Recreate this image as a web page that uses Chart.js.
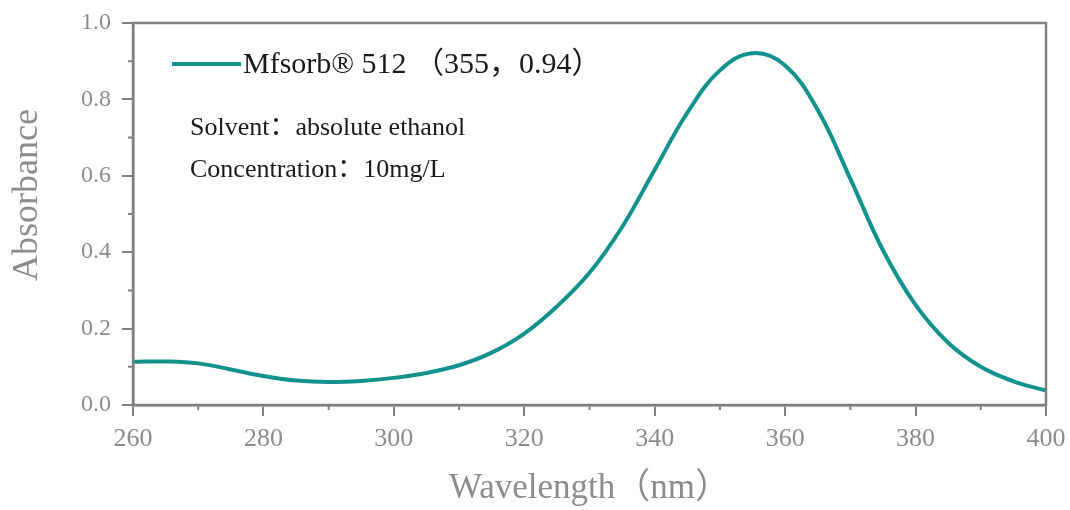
<!DOCTYPE html>
<html>
<head>
<meta charset="utf-8">
<script src="https://cdn.jsdelivr.net/npm/chart.js@4.4.1/dist/chart.umd.min.js"></script>
<style>
html,body{margin:0;padding:0;background:#fff;}
#wrap{position:relative;width:1070px;height:510px;}
</style>
</head>
<body>
<div id="wrap"><canvas id="c" width="1070" height="510"></canvas></div>
<script>
// ---- data ----
const wavelengths = [260,265,270,275,280,285,290,295,300,305,310,315,320,325,330,335,340,345,350,355,360,365,370,375,380,385,390,395,400];
const absorbance  = [0.113,0.114,0.109,0.093,0.076,0.064,0.060,0.063,0.071,0.084,0.104,0.137,0.187,0.258,0.346,0.466,0.616,0.765,0.876,0.921,0.889,0.772,0.592,0.405,0.262,0.163,0.100,0.062,0.038];
const xTicks = [260,280,300,320,340,360,380,400];
const xMinorTicks = [270,290,310,330,350,370,390];
const yTicks = [0,0.2,0.4,0.6,0.8,1.0];
const yMinorTicks = [0.1,0.3,0.5,0.7,0.9];
const seriesLabel = 'Mfsorb® 512 （355，0.94）';
const notes = ['Solvent：absolute ethanol', 'Concentration：10mg/L'];
const xTitle = 'Wavelength（nm）';
const yTitle = 'Absorbance';

const SERIF = '"Liberation Serif", "DejaVu Serif", "Noto Sans CJK SC", serif';
const GRAY = '#808080';
const LABEL_GRAY = '#8c8c8c';
const TEAL = '#12918d';

const framePlugin = {
  id: 'frame',
  afterDatasetsDraw(chart) {
    const {ctx, chartArea: a, scales} = chart;
    ctx.save();
    ctx.strokeStyle = GRAY;
    ctx.lineWidth = 2.5;
    ctx.strokeRect(a.left, a.top, a.right - a.left, a.bottom - a.top);
    // minor ticks
    ctx.lineWidth = 2;
    ctx.beginPath();
    yMinorTicks.forEach(v => {
      const y = scales.y.getPixelForValue(v);
      ctx.moveTo(a.left - 5, y); ctx.lineTo(a.left, y);
    });
    xMinorTicks.forEach(v => {
      const x = scales.x.getPixelForValue(v);
      ctx.moveTo(x, a.bottom); ctx.lineTo(x, a.bottom + 5);
    });
    ctx.stroke();
    // y-axis title
    ctx.save();
    ctx.fillStyle = LABEL_GRAY;
    ctx.font = '36px ' + SERIF;
    ctx.textAlign = 'center';
    ctx.textBaseline = 'middle';
    ctx.translate(28, a.top + 172);
    ctx.rotate(-Math.PI / 2);
    ctx.fillText(yTitle, 0, 0);
    ctx.restore();
    // legend
    const ds = chart.data.datasets[0];
    const ly = a.top + 41;
    ctx.strokeStyle = ds.borderColor;
    ctx.lineWidth = 4;
    ctx.beginPath();
    ctx.moveTo(a.left + 39, ly); ctx.lineTo(a.left + 108, ly);
    ctx.stroke();
    ctx.fillStyle = '#1a1a1a';
    ctx.textBaseline = 'middle';
    ctx.textAlign = 'left';
    ctx.font = '30px ' + SERIF;
    ctx.fillText(ds.label, a.left + 110, ly + 1);
    ctx.font = '26px ' + SERIF;
    ctx.fillText(notes[0], a.left + 57, a.top + 105);
    ctx.fillText(notes[1], a.left + 57, a.top + 147);
    ctx.restore();
  }
};

new Chart(document.getElementById('c'), {
  type: 'line',
  data: {
    datasets: [{
      label: seriesLabel,
      data: wavelengths.map((w, i) => ({x: w, y: absorbance[i]})),
      borderColor: TEAL,
      backgroundColor: TEAL,
      borderWidth: 4,
      pointRadius: 0,
      tension: 0.4,
      fill: false
    }]
  },
  options: {
    responsive: false,
    animation: false,
    devicePixelRatio: 1,
    layout: {padding: {top: 23, right: 24, left: 0, bottom: 0}},
    plugins: {legend: {display: false}, tooltip: {enabled: false}},
    scales: {
      x: {
        type: 'linear', min: 260, max: 400,
        afterBuildTicks: s => { s.ticks = xTicks.map(v => ({value: v})); },
        afterFit: s => { s.height = 105; s.paddingRight = 0; s.paddingLeft = 0; },
        grid: {drawOnChartArea: false, drawTicks: true, tickLength: 11, color: GRAY, lineWidth: 2},
        border: {color: GRAY, width: 2.5},
        ticks: {color: LABEL_GRAY, font: {family: SERIF, size: 26}, padding: 8, maxRotation: 0},
        title: {display: true, text: xTitle, color: LABEL_GRAY, font: {family: SERIF, size: 35}, padding: {top: 0, bottom: 0}}
      },
      y: {
        type: 'linear', min: 0, max: 1,
        afterBuildTicks: s => { s.ticks = yTicks.map(v => ({value: v})); },
        afterFit: s => { s.width = 133; s.paddingTop = 0; s.paddingBottom = 0; },
        grid: {drawOnChartArea: false, drawTicks: true, tickLength: 11, color: GRAY, lineWidth: 2},
        border: {color: GRAY, width: 2.5},
        ticks: {color: LABEL_GRAY, font: {family: SERIF, size: 24}, padding: 11, callback: v => v.toFixed(1)},
        title: {display: false}
      }
    }
  },
  plugins: [framePlugin]
});
</script>
</body>
</html>
